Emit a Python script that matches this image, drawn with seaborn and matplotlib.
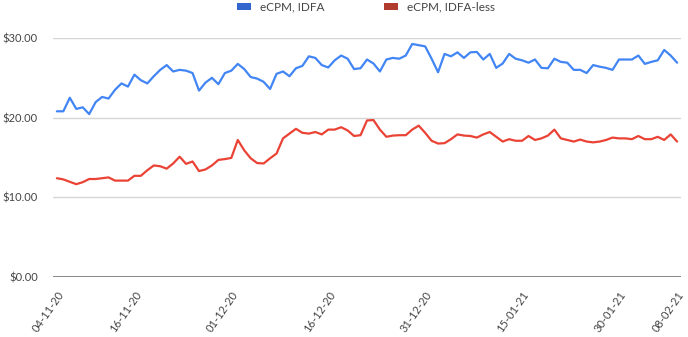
import numpy as np
import pandas as pd
import matplotlib
matplotlib.use("Agg")
import matplotlib.pyplot as plt
from matplotlib.patches import Patch
import seaborn as sns

# Daily eCPM, 4 Nov 2020 - 8 Feb 2021
start_date = "2020-11-04"
end_date = "2021-02-08"

ecpm_idfa = [
    20.8, 20.8, 22.5, 21.1, 21.3, 20.45, 21.95, 22.6, 22.4, 23.5,
    24.3, 23.9, 25.4, 24.7, 24.3, 25.2, 26.0, 26.6, 25.8, 26.0,
    25.9, 25.6, 23.4, 24.4, 25.0, 24.2, 25.6, 25.9, 26.75, 26.1,
    25.1, 24.9, 24.5, 23.6, 25.5, 25.8, 25.2, 26.2, 26.5, 27.7,
    27.5, 26.6, 26.3, 27.2, 27.8, 27.4, 26.1, 26.2, 27.3, 26.8,
    25.8, 27.3, 27.5, 27.4, 27.8, 29.25, 29.1, 28.95, 27.4, 25.7,
    28.0, 27.7, 28.2, 27.5, 28.2, 28.25, 27.3, 28.0, 26.25, 26.8,
    28.0, 27.4, 27.2, 26.9, 27.3, 26.25, 26.2, 27.4, 27.0, 26.9,
    26.0, 26.0, 25.6, 26.6, 26.4, 26.25, 26.0, 27.3, 27.3, 27.3,
    27.8, 26.75, 27.0, 27.2, 28.5, 27.8, 26.9,
]

ecpm_idfa_less = [
    12.4, 12.25, 11.95, 11.65, 11.9, 12.3, 12.3, 12.4, 12.5, 12.1,
    12.1, 12.1, 12.7, 12.7, 13.4, 14.0, 13.9, 13.6, 14.25, 15.1,
    14.2, 14.5, 13.3, 13.5, 14.0, 14.7, 14.8, 14.95, 17.2, 15.9,
    14.9, 14.3, 14.25, 14.9, 15.5, 17.4, 18.0, 18.6, 18.1, 18.0,
    18.2, 17.9, 18.5, 18.5, 18.8, 18.4, 17.7, 17.8, 19.65, 19.7,
    18.5, 17.6, 17.75, 17.8, 17.8, 18.5, 19.0, 18.1, 17.1, 16.75,
    16.8, 17.3, 17.9, 17.75, 17.7, 17.5, 17.9, 18.2, 17.6, 17.0,
    17.3, 17.1, 17.1, 17.7, 17.2, 17.4, 17.75, 18.5, 17.4, 17.2,
    17.0, 17.25, 17.0, 16.9, 17.0, 17.2, 17.5, 17.4, 17.4, 17.3,
    17.7, 17.3, 17.3, 17.6, 17.2, 17.9, 17.0,
]

series_names = ["eCPM, IDFA", "eCPM, IDFA-less"]
line_colors = ["#4285f4", "#ea4335"]
legend_colors = ["#3366cc", "#b03a2e"]

tick_dates = ["2020-11-04", "2020-11-16", "2020-12-01", "2020-12-16",
              "2020-12-31", "2021-01-15", "2021-01-30", "2021-02-08"]
tick_labels = ["04-11-20", "16-11-20", "01-12-20", "16-12-20",
               "31-12-20", "15-01-21", "30-01-21", "08-02-21"]
y_ticks = [0, 10, 20, 30]
y_tick_labels = ["$0.00", "$10.00", "$20.00", "$30.00"]

dates = pd.date_range(start_date, end_date, freq="D")
df = pd.concat([
    pd.DataFrame({"date": dates, "ecpm": ecpm_idfa, "series": series_names[0]}),
    pd.DataFrame({"date": dates, "ecpm": ecpm_idfa_less, "series": series_names[1]}),
])

sns.set_style("white")
plt.rcParams["font.family"] = ["Lato", "DejaVu Sans"]

fig = plt.figure(figsize=(6.88, 3.37), dpi=100)
ax = fig.add_axes([53 / 688, 1 - 277 / 337, (681 - 53) / 688, (277 - 38) / 337])

sns.lineplot(data=df, x="date", y="ecpm", hue="series",
             palette=dict(zip(series_names, line_colors)),
             linewidth=1.6, legend=False, ax=ax)

day = pd.Timedelta(days=1)
ax.set_xlim(dates[0] - 0.6 * day, dates[-1] + 0.6 * day)
ax.set_ylim(0, 30)

ax.set_yticks(y_ticks)
ax.set_yticklabels(y_tick_labels)
ax.set_xticks(pd.to_datetime(tick_dates))
ax.set_xticklabels(tick_labels, rotation=55, ha="right", va="top",
                   rotation_mode="anchor")

ax.tick_params(axis="y", length=0, pad=11, labelsize=8, labelcolor="#444444")
ax.tick_params(axis="x", length=0, pad=9, labelsize=8, labelcolor="#444444")

for v in y_ticks[1:]:
    ax.axhline(v, color="#d6d6d6", linewidth=1.0, zorder=0)
ax.axhline(0, color="#666666", linewidth=1.1, zorder=3)

for s in ax.spines.values():
    s.set_visible(False)
ax.set_xlabel("")
ax.set_ylabel("")

handles = [Patch(facecolor=c, edgecolor="none", label=n)
           for c, n in zip(legend_colors, series_names)]
fig.legend(handles=handles, loc="center", bbox_to_anchor=(366 / 688, 1 - 7 / 337),
           ncol=2, frameon=False, fontsize=8.5, handlelength=1.2,
           handleheight=0.5, handletextpad=0.8, columnspacing=5.0,
           labelcolor="#444444")

fig.savefig("out.png", dpi=100)
